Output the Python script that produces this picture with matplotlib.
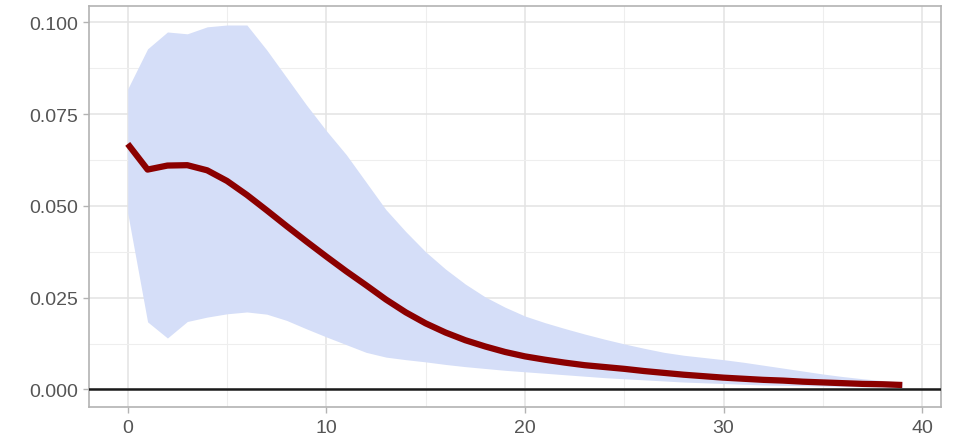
import numpy as np
import matplotlib
matplotlib.use('Agg')
import matplotlib.pyplot as plt
from matplotlib.ticker import MultipleLocator, FormatStrFormatter

plt.rcParams['font.family'] = ['Liberation Sans', 'DejaVu Sans']

# horizon 0..39
horizon = np.arange(40)

irf_mean = [0.0669, 0.0599, 0.0610, 0.0611, 0.0597, 0.0568, 0.0530, 0.0488, 0.0445, 0.0403,
            0.0362, 0.0322, 0.0284, 0.0245, 0.0210, 0.0180, 0.0155, 0.0134, 0.0117, 0.0102,
            0.0090, 0.0081, 0.0073, 0.0066, 0.0061, 0.0056, 0.0050, 0.0045, 0.0040, 0.0036,
            0.0032, 0.0029, 0.0026, 0.0024, 0.0021, 0.0019, 0.0017, 0.0015, 0.0014, 0.0012]

irf_lower = [0.0480, 0.0184, 0.0140, 0.0185, 0.0197, 0.0206, 0.0211, 0.0205, 0.0188, 0.0165,
             0.0143, 0.0122, 0.0101, 0.0088, 0.0081, 0.0075, 0.0068, 0.0062, 0.0057, 0.0052,
             0.0048, 0.0044, 0.0040, 0.0036, 0.0032, 0.0029, 0.0026, 0.0023, 0.0020, 0.0018,
             0.0016, 0.0014, 0.0012, 0.0011, 0.0010, 0.0009, 0.0008, 0.0007, 0.0006, 0.0005]

irf_upper = [0.0819, 0.0928, 0.0974, 0.0969, 0.0988, 0.0993, 0.0993, 0.0925, 0.0850, 0.0775,
             0.0705, 0.0640, 0.0565, 0.0490, 0.0430, 0.0375, 0.0328, 0.0287, 0.0252, 0.0224,
             0.0200, 0.0182, 0.0166, 0.0151, 0.0137, 0.0124, 0.0112, 0.0101, 0.0093, 0.0087,
             0.0081, 0.0074, 0.0066, 0.0058, 0.0050, 0.0042, 0.0035, 0.0029, 0.0024, 0.0020]

fig = plt.figure(figsize=(9.56, 4.39), dpi=100)
ax = fig.add_axes([0.0931, 0.0706, 0.8912, 0.9128])

# 置信带和均值线
ax.fill_between(horizon, irf_lower, irf_upper, color='#d5def8', linewidth=0, zorder=2)
ax.plot(horizon, irf_mean, color='#8b0000', linewidth=4.5, solid_capstyle='butt', zorder=3)
ax.axhline(0, color='#1a1a1a', linewidth=1.8, zorder=4)

ax.set_xlim(-1.95, 40.95)
ax.set_ylim(-0.0048, 0.1044)
ax.xaxis.set_major_locator(MultipleLocator(10))
ax.xaxis.set_minor_locator(MultipleLocator(5))
ax.yaxis.set_major_locator(MultipleLocator(0.025))
ax.yaxis.set_minor_locator(MultipleLocator(0.0125))
ax.yaxis.set_major_formatter(FormatStrFormatter('%.3f'))

# ggplot theme_light 风格
ax.grid(which='major', color='#e3e3e3', linewidth=1.1, zorder=0)
ax.grid(which='minor', color='#eeeeee', linewidth=0.8, zorder=0)
ax.set_axisbelow(True)
for s in ax.spines.values():
    s.set_color('#b3b3b3')
    s.set_linewidth(1.2)
ax.tick_params(which='major', length=4, width=1.0, color='#b3b3b3',
               labelcolor='#555555', labelsize=14)
ax.tick_params(axis='x', which='major', pad=4.5)
ax.tick_params(axis='y', which='major', pad=4)
ax.tick_params(which='minor', length=0)

fig.savefig('out.png', dpi=100, facecolor='white')
